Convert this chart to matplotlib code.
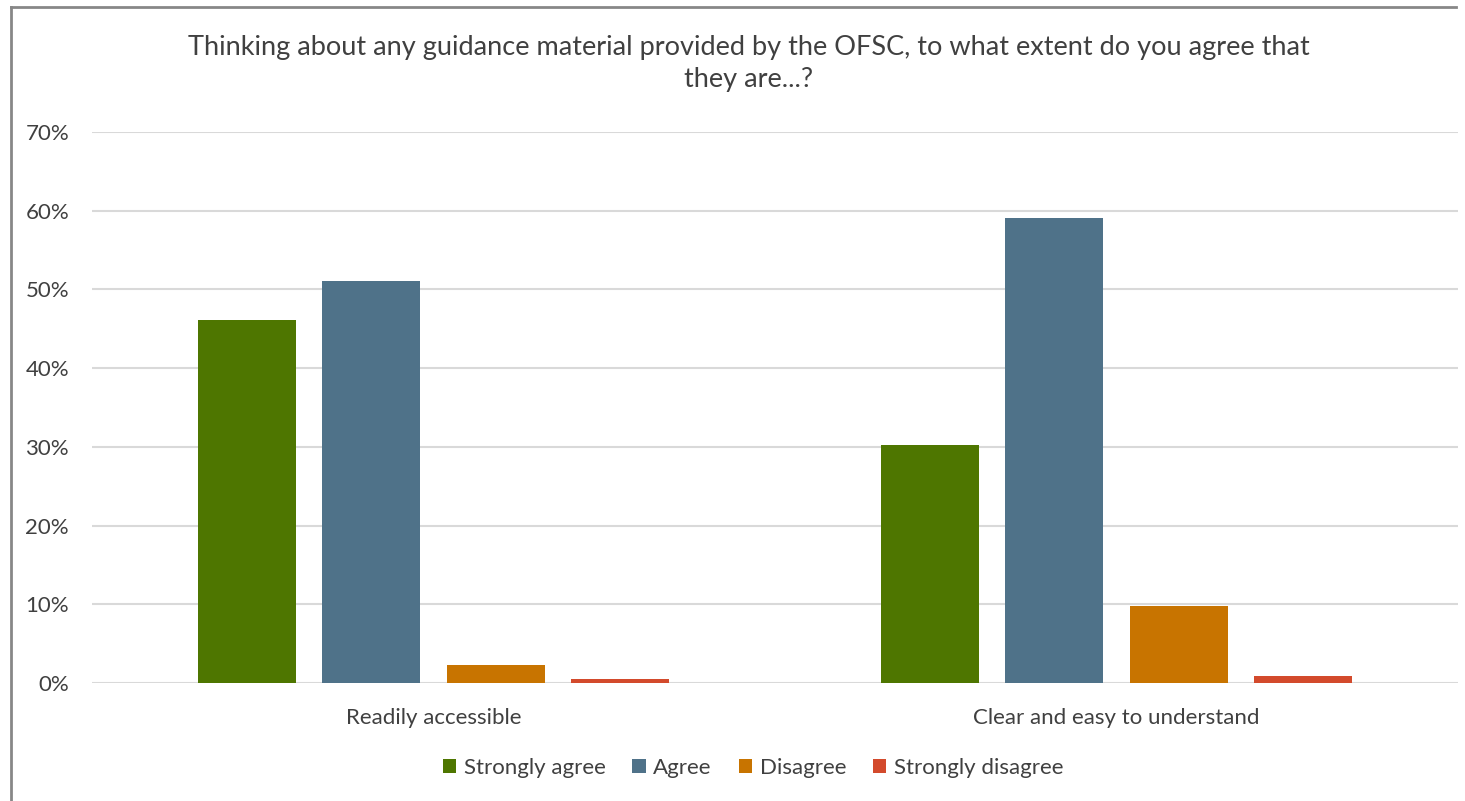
import matplotlib
matplotlib.use("Agg")
import matplotlib.pyplot as plt
from matplotlib.lines import Line2D
from matplotlib.patches import Patch
import numpy as np

categories = ["Readily accessible", "Clear and easy to understand"]
series_names = ["Strongly agree", "Agree", "Disagree", "Strongly disagree"]
strongly_agree = [0.461, 0.302]
agree = [0.511, 0.591]
disagree = [0.023, 0.098]
strongly_disagree = [0.0045, 0.009]
yticks = [0, 0.1, 0.2, 0.3, 0.4, 0.5, 0.6, 0.7]
title = "Thinking about any guidance material provided by the OFSC, to what extent do you agree that\nthey are...?"

colors = ["#4E7600", "#4F7289", "#C87400", "#D34A2C"]
values = [strongly_agree, agree, disagree, strongly_disagree]

plt.rcParams['font.family'] = ['Lato', 'DejaVu Sans']
W, H = 1465, 801
fig = plt.figure(figsize=(W / 100, H / 100), dpi=100)
ax = fig.add_axes([92 / W, 1 - 683 / H, (1458 - 92) / W, (683 - 132) / H])

x = np.arange(len(categories))
width = 0.1437
step = 0.1818
for i, (name, vals, c) in enumerate(zip(series_names, values, colors)):
    ax.bar(x + (i - 1.5) * step, vals, width=width, color=c, label=name, zorder=3)

ax.set_xlim(-0.5, 1.5)
ax.set_ylim(0, 0.7)
ax.set_yticks(yticks)
ax.set_yticklabels([f"{int(round(t * 100))}%" for t in yticks])
ax.set_xticks(x)
ax.set_xticklabels(categories)
ax.grid(axis='y', color='#D9D9D9', linewidth=1.5, zorder=0)
for s in ax.spines.values():
    s.set_visible(False)
ax.tick_params(axis='both', length=0, labelsize=16, colors='#404040')
ax.tick_params(axis='y', pad=16.5)
ax.tick_params(axis='x', pad=18)

fig.text(749 / W, 1 - 64 / H, title, ha='center', va='center', fontsize=19.5,
         color='#404040', linespacing=1.35)

handles = [Patch(facecolor=c, label=n) for n, c in zip(series_names, colors)]
fig.legend(handles=handles, loc='center', bbox_to_anchor=(753 / W, 1 - 768 / H),
           ncol=4, frameon=False, fontsize=16, handlelength=0.6, handleheight=0.6,
           handletextpad=0.35, columnspacing=1.2, labelcolor='#404040')

# chart border (left and top visible)
fig.add_artist(Line2D([11 / W, 11 / W], [0, 1 - 7 / H], color='#878787', linewidth=2,
                      transform=fig.transFigure))
fig.add_artist(Line2D([11 / W, 1456 / W], [1 - 7 / H, 1 - 7 / H], color='#878787',
                      linewidth=2, transform=fig.transFigure))

fig.savefig("out.png", dpi=100, facecolor='white')
